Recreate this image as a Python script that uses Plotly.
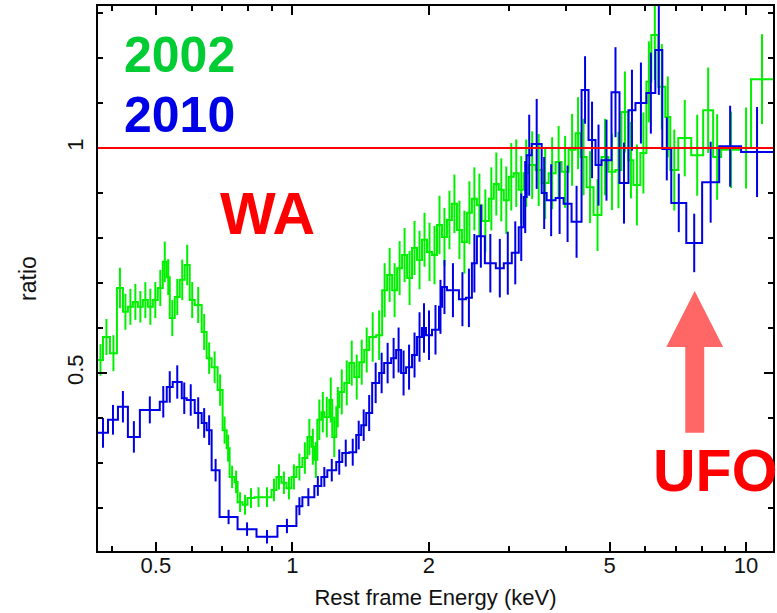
import numpy as np
import plotly.graph_objects as go

# ---------------- data: data/model ratio vs rest-frame energy ----------------
# 2002 observation: bin edges (keV), ratio per bin, 1-sigma error per bin
edges_2002 = [0.3728, 0.3823, 0.3961, 0.4104, 0.4231, 0.4339, 0.4450, 0.4564, 0.4681, 0.4801,
              0.4924, 0.5050, 0.5180, 0.5285, 0.5366, 0.5505, 0.5645, 0.5789, 0.5938, 0.6091,
              0.6310, 0.6471, 0.6637, 0.6842, 0.7017, 0.7161, 0.7271, 0.7457, 0.7571, 0.7765,
              0.7963, 0.8251, 0.8592, 0.8992, 0.9222, 0.9458, 0.9701, 0.9949, 1.0205, 1.0519,
              1.0789, 1.1010, 1.1178, 1.1348, 1.1582, 1.1757, 1.2058, 1.2242, 1.2493, 1.2686,
              1.3011, 1.3344, 1.3686, 1.4037, 1.4397, 1.4766, 1.5298, 1.5770, 1.6174, 1.6589,
              1.7013, 1.7449, 1.7897, 1.8354, 1.8823, 1.9307, 1.9802, 2.0310, 2.0831, 2.1364,
              2.1912, 2.2470, 2.3051, 2.3641, 2.4245, 2.4869, 2.5507, 2.6160, 2.7102, 2.7797,
              2.8508, 2.9240, 2.9988, 3.0756, 3.1545, 3.2353, 3.3180, 3.4376, 3.5439, 3.6718,
              3.8038, 3.9212, 4.0630, 4.2095, 4.3170, 4.4502, 4.6108, 4.8013, 4.9737, 5.1533,
              5.3120, 5.5055, 5.6449, 5.8483, 6.0300, 6.1832, 6.4061, 6.6372, 6.8074, 7.0886,
              7.5704, 8.0437, 8.4610, 8.8120, 9.7502, 10.256, 11.465]
ratio_2002 = [0.529, 0.580, 0.544, 0.689, 0.636, 0.647, 0.658, 0.647, 0.662, 0.647,
              0.662, 0.689, 0.747, 0.713, 0.622, 0.669, 0.707, 0.740, 0.662, 0.651,
              0.591, 0.533, 0.513, 0.462, 0.373, 0.333, 0.269, 0.258, 0.213, 0.207,
              0.222, 0.224, 0.224, 0.240, 0.269, 0.256, 0.244, 0.269, 0.291, 0.311,
              0.358, 0.336, 0.307, 0.396, 0.413, 0.402, 0.440, 0.358, 0.424, 0.458,
              0.478, 0.522, 0.491, 0.524, 0.551, 0.580, 0.584, 0.684, 0.718, 0.684,
              0.733, 0.762, 0.711, 0.778, 0.751, 0.796, 0.769, 0.762, 0.829, 0.802,
              0.840, 0.876, 0.818, 0.791, 0.856, 0.887, 0.873, 0.838, 0.887, 0.920,
              0.907, 0.884, 0.936, 0.944, 0.907, 0.944, 0.962, 0.951, 0.922, 0.944,
              0.969, 0.947, 0.996, 1.033, 0.980, 0.913, 0.851, 0.980, 0.947, 0.951,
              1.080, 0.973, 0.918, 0.989, 1.147, 1.251, 1.136, 1.069, 0.951, 1.022,
              0.984, 1.084, 0.980, 0.996, 1.000, 1.153]
err_2002 = [0.035, 0.040, 0.040, 0.045, 0.040, 0.040, 0.040, 0.035, 0.040, 0.040,
            0.040, 0.040, 0.045, 0.040, 0.040, 0.040, 0.045, 0.045, 0.040, 0.040,
            0.040, 0.035, 0.035, 0.035, 0.030, 0.030, 0.025, 0.025, 0.022, 0.022,
            0.022, 0.022, 0.022, 0.025, 0.028, 0.025, 0.025, 0.028, 0.030, 0.035,
            0.040, 0.040, 0.040, 0.045, 0.045, 0.045, 0.050, 0.045, 0.045, 0.050,
            0.050, 0.050, 0.050, 0.050, 0.050, 0.055, 0.055, 0.060, 0.060, 0.060,
            0.060, 0.060, 0.060, 0.060, 0.065, 0.060, 0.065, 0.065, 0.065, 0.065,
            0.065, 0.065, 0.065, 0.070, 0.070, 0.070, 0.070, 0.070, 0.070, 0.070,
            0.070, 0.075, 0.075, 0.075, 0.075, 0.075, 0.075, 0.080, 0.080, 0.080,
            0.080, 0.080, 0.080, 0.080, 0.085, 0.080, 0.080, 0.085, 0.085, 0.085,
            0.090, 0.085, 0.090, 0.090, 0.090, 0.100, 0.095, 0.090, 0.090, 0.085,
            0.090, 0.095, 0.095, 0.085, 0.090, 0.100]

# 2010 observation
edges_2010 = [0.3728, 0.3922, 0.4125, 0.4339, 0.4611, 0.5101, 0.5285, 0.5448, 0.5703, 0.5849,
              0.6091, 0.6310, 0.6471, 0.6637, 0.6910, 0.7571, 0.8334, 0.9269, 1.0205, 1.0519,
              1.1178, 1.1582, 1.1938, 1.2493, 1.2879, 1.3344, 1.3825, 1.4180, 1.4543, 1.4991,
              1.5532, 1.5930, 1.6504, 1.6927, 1.7360, 1.7805, 1.8354, 1.8823, 1.9307, 1.9702,
              2.0310, 2.1042, 2.1364, 2.1912, 2.3285, 2.4125, 2.4869, 2.5507, 2.6560, 2.8079,
              2.9240, 3.0448, 3.1545, 3.2353, 3.2847, 3.3689, 3.5439, 3.6348, 3.8038, 3.9608,
              4.1245, 4.3389, 4.4955, 4.6577, 4.8013, 5.0508, 5.2601, 5.5055, 5.7038, 6.0300,
              6.3096, 6.5368, 6.8412, 7.3829, 8.0018, 8.7247, 9.7501, 11.465]
ratio_2010 = [0.367, 0.396, 0.425, 0.358, 0.418, 0.436, 0.469, 0.480, 0.444, 0.440,
              0.411, 0.389, 0.373, 0.284, 0.180, 0.153, 0.136, 0.160, 0.204, 0.224,
              0.249, 0.269, 0.284, 0.302, 0.322, 0.324, 0.362, 0.384, 0.411, 0.478,
              0.500, 0.522, 0.533, 0.551, 0.500, 0.513, 0.540, 0.580, 0.600, 0.584,
              0.596, 0.647, 0.691, 0.684, 0.664, 0.667, 0.744, 0.804, 0.744, 0.733,
              0.744, 0.767, 0.824, 0.891, 0.984, 1.009, 0.900, 0.884, 0.889, 0.876,
              0.836, 1.129, 1.018, 0.962, 0.973, 1.124, 0.922, 1.084, 1.100, 1.122,
              1.218, 0.998, 0.878, 0.789, 0.924, 1.004, 0.991]
err_2010 = [0.033, 0.033, 0.035, 0.035, 0.030, 0.035, 0.035, 0.037, 0.035, 0.035,
            0.035, 0.033, 0.033, 0.025, 0.016, 0.015, 0.015, 0.016, 0.020, 0.020,
            0.022, 0.022, 0.025, 0.028, 0.030, 0.030, 0.032, 0.035, 0.040, 0.045,
            0.045, 0.045, 0.045, 0.050, 0.050, 0.050, 0.050, 0.055, 0.055, 0.055,
            0.055, 0.060, 0.060, 0.060, 0.060, 0.065, 0.065, 0.070, 0.065, 0.065,
            0.070, 0.070, 0.075, 0.080, 0.090, 0.100, 0.080, 0.080, 0.080, 0.085,
            0.080, 0.075, 0.085, 0.090, 0.090, 0.100, 0.090, 0.090, 0.090, 0.090,
            0.100, 0.070, 0.065, 0.065, 0.090, 0.090, 0.100]

# axis setup
x_range_kev = (0.3728, 11.465)
y_range = (0.1044, 1.3156)
x_major = [0.5, 1, 2, 5, 10]
x_minor = [0.4, 0.6, 0.7, 0.8, 0.9, 3, 4, 6, 7, 8, 9]
y_major = [0.5, 1]
y_minor = [0.2, 0.3, 0.4, 0.6, 0.7, 0.8, 0.9, 1.1, 1.2, 1.3]

GREEN = "#00f000"
BLUE = "#0000e6"
RED = "#ff0000"
ARROW = "#ff6666"
FONT = "Liberation Sans"


def step_trace(edges, ratio, err, color):
    """Histogram-style step line plus vertical error bars at bin centres."""
    xs, ys = [], []
    for i, r in enumerate(ratio):
        xs += [edges[i], edges[i + 1]]
        ys += [r, r]
    centers = [float(np.sqrt(edges[i] * edges[i + 1])) for i in range(len(ratio))]
    line = go.Scatter(x=xs, y=ys, mode="lines",
                      line=dict(color=color, width=2), hoverinfo="skip",
                      showlegend=False)
    bars = go.Scatter(x=centers, y=ratio, mode="markers",
                      marker=dict(size=0.1, color=color),
                      error_y=dict(type="data", array=err, visible=True,
                                   color=color, thickness=2, width=0),
                      showlegend=False)
    return [line, bars]


fig = go.Figure()
for tr in step_trace(edges_2002, ratio_2002, err_2002, GREEN):
    fig.add_trace(tr)
for tr in step_trace(edges_2010, ratio_2010, err_2010, BLUE):
    fig.add_trace(tr)

lx0, lx1 = np.log10(x_range_kev[0]), np.log10(x_range_kev[1])


def px(e):
    """keV -> paper x fraction on the log axis."""
    return float((np.log10(e) - lx0) / (lx1 - lx0))


def py(r):
    return float((r - y_range[0]) / (y_range[1] - y_range[0]))


# unity line
fig.add_shape(type="line", xref="paper", yref="y", x0=0, x1=1, y0=1, y1=1,
              line=dict(color=RED, width=2), layer="above")

# arrow marking the absorption feature
tip = (7.705, 0.682)
head_base, head_l, head_r = 0.558, 6.671, 8.901
shaft_l, shaft_r, shaft_bottom = 7.345, 8.087, 0.367
path = (f"M {px(shaft_l)},{py(shaft_bottom)} L {px(shaft_l)},{py(head_base)} "
        f"L {px(head_l)},{py(head_base)} L {px(tip[0])},{py(tip[1])} "
        f"L {px(head_r)},{py(head_base)} L {px(shaft_r)},{py(head_base)} "
        f"L {px(shaft_r)},{py(shaft_bottom)} Z")
fig.add_shape(type="path", xref="paper", yref="paper", path=path,
              fillcolor=ARROW, line=dict(width=0), layer="above")

labels = [
    ("2002", 0.5645, 1.207, "#00cc33", 50),
    ("2010", 0.5645, 1.074, BLUE, 50),
    ("WA", 0.8812, 0.853, RED, 59),
    ("UFO", 8.549, 0.282, RED, 59),
]
for text, ex, ry, col, size in labels:
    fig.add_annotation(x=float(np.log10(ex)), y=ry, xref="x", yref="y", text=f"<b>{text}</b>",
                       showarrow=False, xanchor="center", yanchor="middle",
                       font=dict(family=FONT, size=size, color=col))

axis_common = dict(showline=True, linecolor="black", linewidth=2, mirror="ticks",
                   ticks="inside", ticklen=9, tickwidth=2, tickcolor="black",
                   showgrid=False, zeroline=False,
                   tickfont=dict(family=FONT, size=22, color="#111"))

fig.update_xaxes(type="log", range=[lx0, lx1], tickmode="array", tickvals=x_major,
                 ticktext=[str(v) for v in x_major],
                 minor=dict(tickvals=x_minor, ticks="inside", ticklen=5, tickwidth=2,
                            tickcolor="black", showgrid=False),
                 title=dict(text="Rest frame Energy (keV)",
                            font=dict(family=FONT, size=22, color="#111"), standoff=12),
                 ticklabelstandoff=-6,
                 **axis_common)
fig.update_yaxes(range=list(y_range), tickmode="array", tickvals=y_major,
                 ticktext=[str(v) for v in y_major], tickangle=-90,
                 minor=dict(tickvals=y_minor, ticks="inside", ticklen=5, tickwidth=2,
                            tickcolor="black", showgrid=False),
                 title=dict(text="ratio", font=dict(family=FONT, size=23, color="#111"),
                            standoff=20),
                 ticklabelstandoff=4,
                 **axis_common)

fig.update_layout(width=777, height=613, margin=dict(l=98, r=2, t=6, b=62),
                  paper_bgcolor="white", plot_bgcolor="white",
                  font=dict(family=FONT), showlegend=False)

fig.write_html("out.html")
